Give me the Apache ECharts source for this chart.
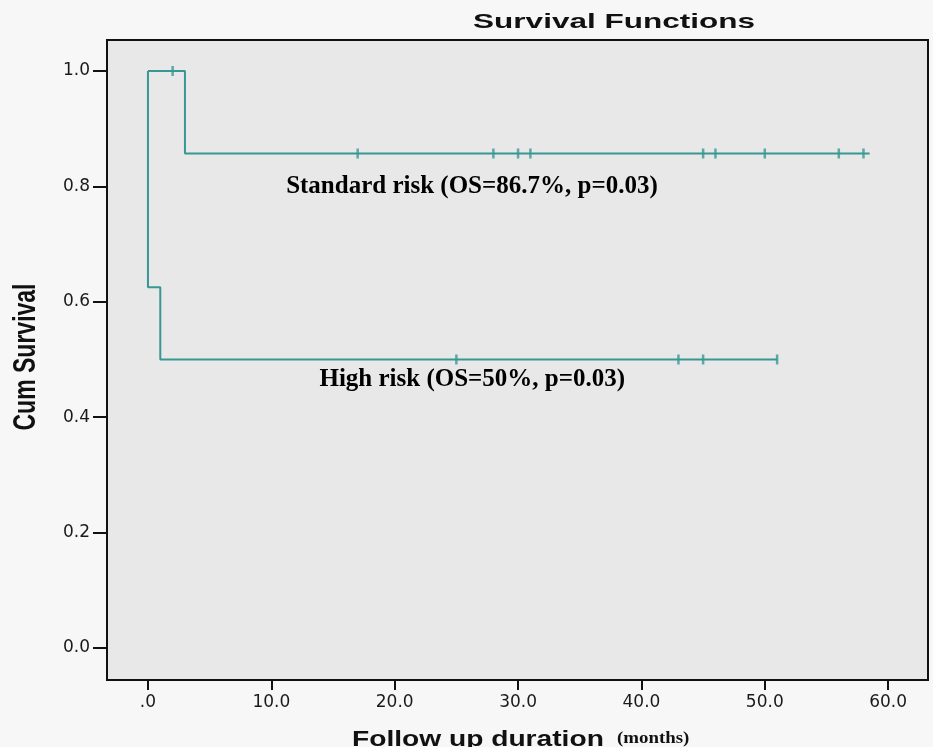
<!DOCTYPE html>
<html><head><meta charset="utf-8">
<script src="https://cdn.jsdelivr.net/npm/echarts@6/dist/echarts.min.js"></script>
<style>html,body{margin:0;padding:0;background:#f7f7f7}#c{width:933px;height:747px}</style>
</head><body><div id="c"></div>
<script>
// ---- data ----
const xTicks = [0, 10, 20, 30, 40, 50, 60];
const yTicks = [0, 0.2, 0.4, 0.6, 0.8, 1.0];
// Kaplan-Meier step points [months, cum survival]
const standardCurve = [[0, 1], [3, 0.857], [58.5, 0.857]];
const standardCensored = [[2, 1], [17, 0.857], [28, 0.857], [30, 0.857], [31, 0.857], [45, 0.857], [46, 0.857], [50, 0.857], [56, 0.857], [58, 0.857]];
const highCurve = [[0, 1], [0, 0.625], [1, 0.5], [51, 0.5]];
const highCensored = [[25, 0.5], [43, 0.5], [45, 0.5], [51, 0.5]];
const annotationText = ['Standard risk (OS=86.7%, p=0.03)', 'High risk (OS=50%, p=0.03)'];
const annotationAt = [[11.2, 0.80], [13.9, 0.465]];
const titleText = 'Survival Functions';
const yName = 'Cum Survival';
const xName = 'Follow up duration';
const xUnit = '(months)';

const teal = '#379793';
const chart = echarts.init(document.getElementById('c'), null, {renderer: 'canvas'});

const lineSeries = (name, data) => ({
  name, type: 'line', step: 'end', data, showSymbol: false, symbol: 'none',
  lineStyle: {color: teal, width: 2}, silent: true, z: 3
});
const censorSeries = (name, data) => ({
  name, type: 'scatter', data, symbol: 'rect', symbolSize: [2.5, 10],
  itemStyle: {color: teal}, silent: true, z: 4
});

chart.setOption({
  animation: false,
  backgroundColor: '#f7f7f7',
  grid: {left: 107, right: 5, top: 40, bottom: 67, show: true,
         backgroundColor: '#e8e8e8', borderColor: '#111', borderWidth: 2,
         containLabel: false, outerBoundsMode: 'none'},
  xAxis: {
    type: 'value', min: -3.32, max: 63.23,
    axisLine: {show: false, onZero: false}, splitLine: {show: false},
    axisTick: {show: true, customValues: xTicks, length: 10, lineStyle: {color: '#111', width: 2}},
    axisLabel: {customValues: xTicks, margin: 14, color: '#1a1a1a', fontSize: 17,
                fontFamily: 'DejaVu Sans',
                formatter: v => v === 0 ? '.0' : v.toFixed(1)}
  },
  yAxis: {
    type: 'value', min: -0.0555, max: 1.0537,
    axisLine: {show: false, onZero: false}, splitLine: {show: false},
    axisTick: {show: true, customValues: yTicks, length: 14, lineStyle: {color: '#111', width: 2}},
    axisLabel: {customValues: yTicks, margin: 17, color: '#1a1a1a', fontSize: 17,
                fontFamily: 'DejaVu Sans',
                formatter: v => v.toFixed(1)}
  },
  series: [
    lineSeries('Standard risk', standardCurve),
    censorSeries('Standard risk censored', standardCensored),
    lineSeries('High risk', highCurve),
    censorSeries('High risk censored', highCensored)
  ]
});

const ann = annotationAt.map((p, i) => {
  const px = chart.convertToPixel({gridIndex: 0}, p);
  return {type: 'text', x: px[0], y: px[1], z: 10,
    style: {text: annotationText[i], fill: '#000', align: 'left', verticalAlign: 'middle',
            font: 'bold 25px "Liberation Serif", "Times New Roman", serif'}};
});

chart.setOption({
  graphic: [
    {type: 'text', x: 614, y: 22, scaleX: 1.5, z: 10,
     style: {text: titleText, fill: '#111', align: 'center', verticalAlign: 'middle',
             font: 'bold 21px "Liberation Sans", Arial, sans-serif'}},
    {type: 'text', x: 26, y: 357, rotation: Math.PI / 2, scaleY: 1.35, z: 10,
     style: {text: yName, fill: '#111', align: 'center', verticalAlign: 'middle',
             font: 'bold 23px "Liberation Sans", Arial, sans-serif'}},
    {type: 'text', x: 352, y: 740, scaleX: 1.28, z: 10,
     style: {text: xName, fill: '#111', align: 'left', verticalAlign: 'middle',
             font: 'bold 22px "Liberation Sans", Arial, sans-serif'}},
    {type: 'text', x: 617, y: 739, scaleX: 1.18, z: 10,
     style: {text: xUnit, fill: '#111', align: 'left', verticalAlign: 'middle',
             font: 'bold 16px "Liberation Serif", "Times New Roman", serif'}}
  ].concat(ann)
});
</script></body></html>
